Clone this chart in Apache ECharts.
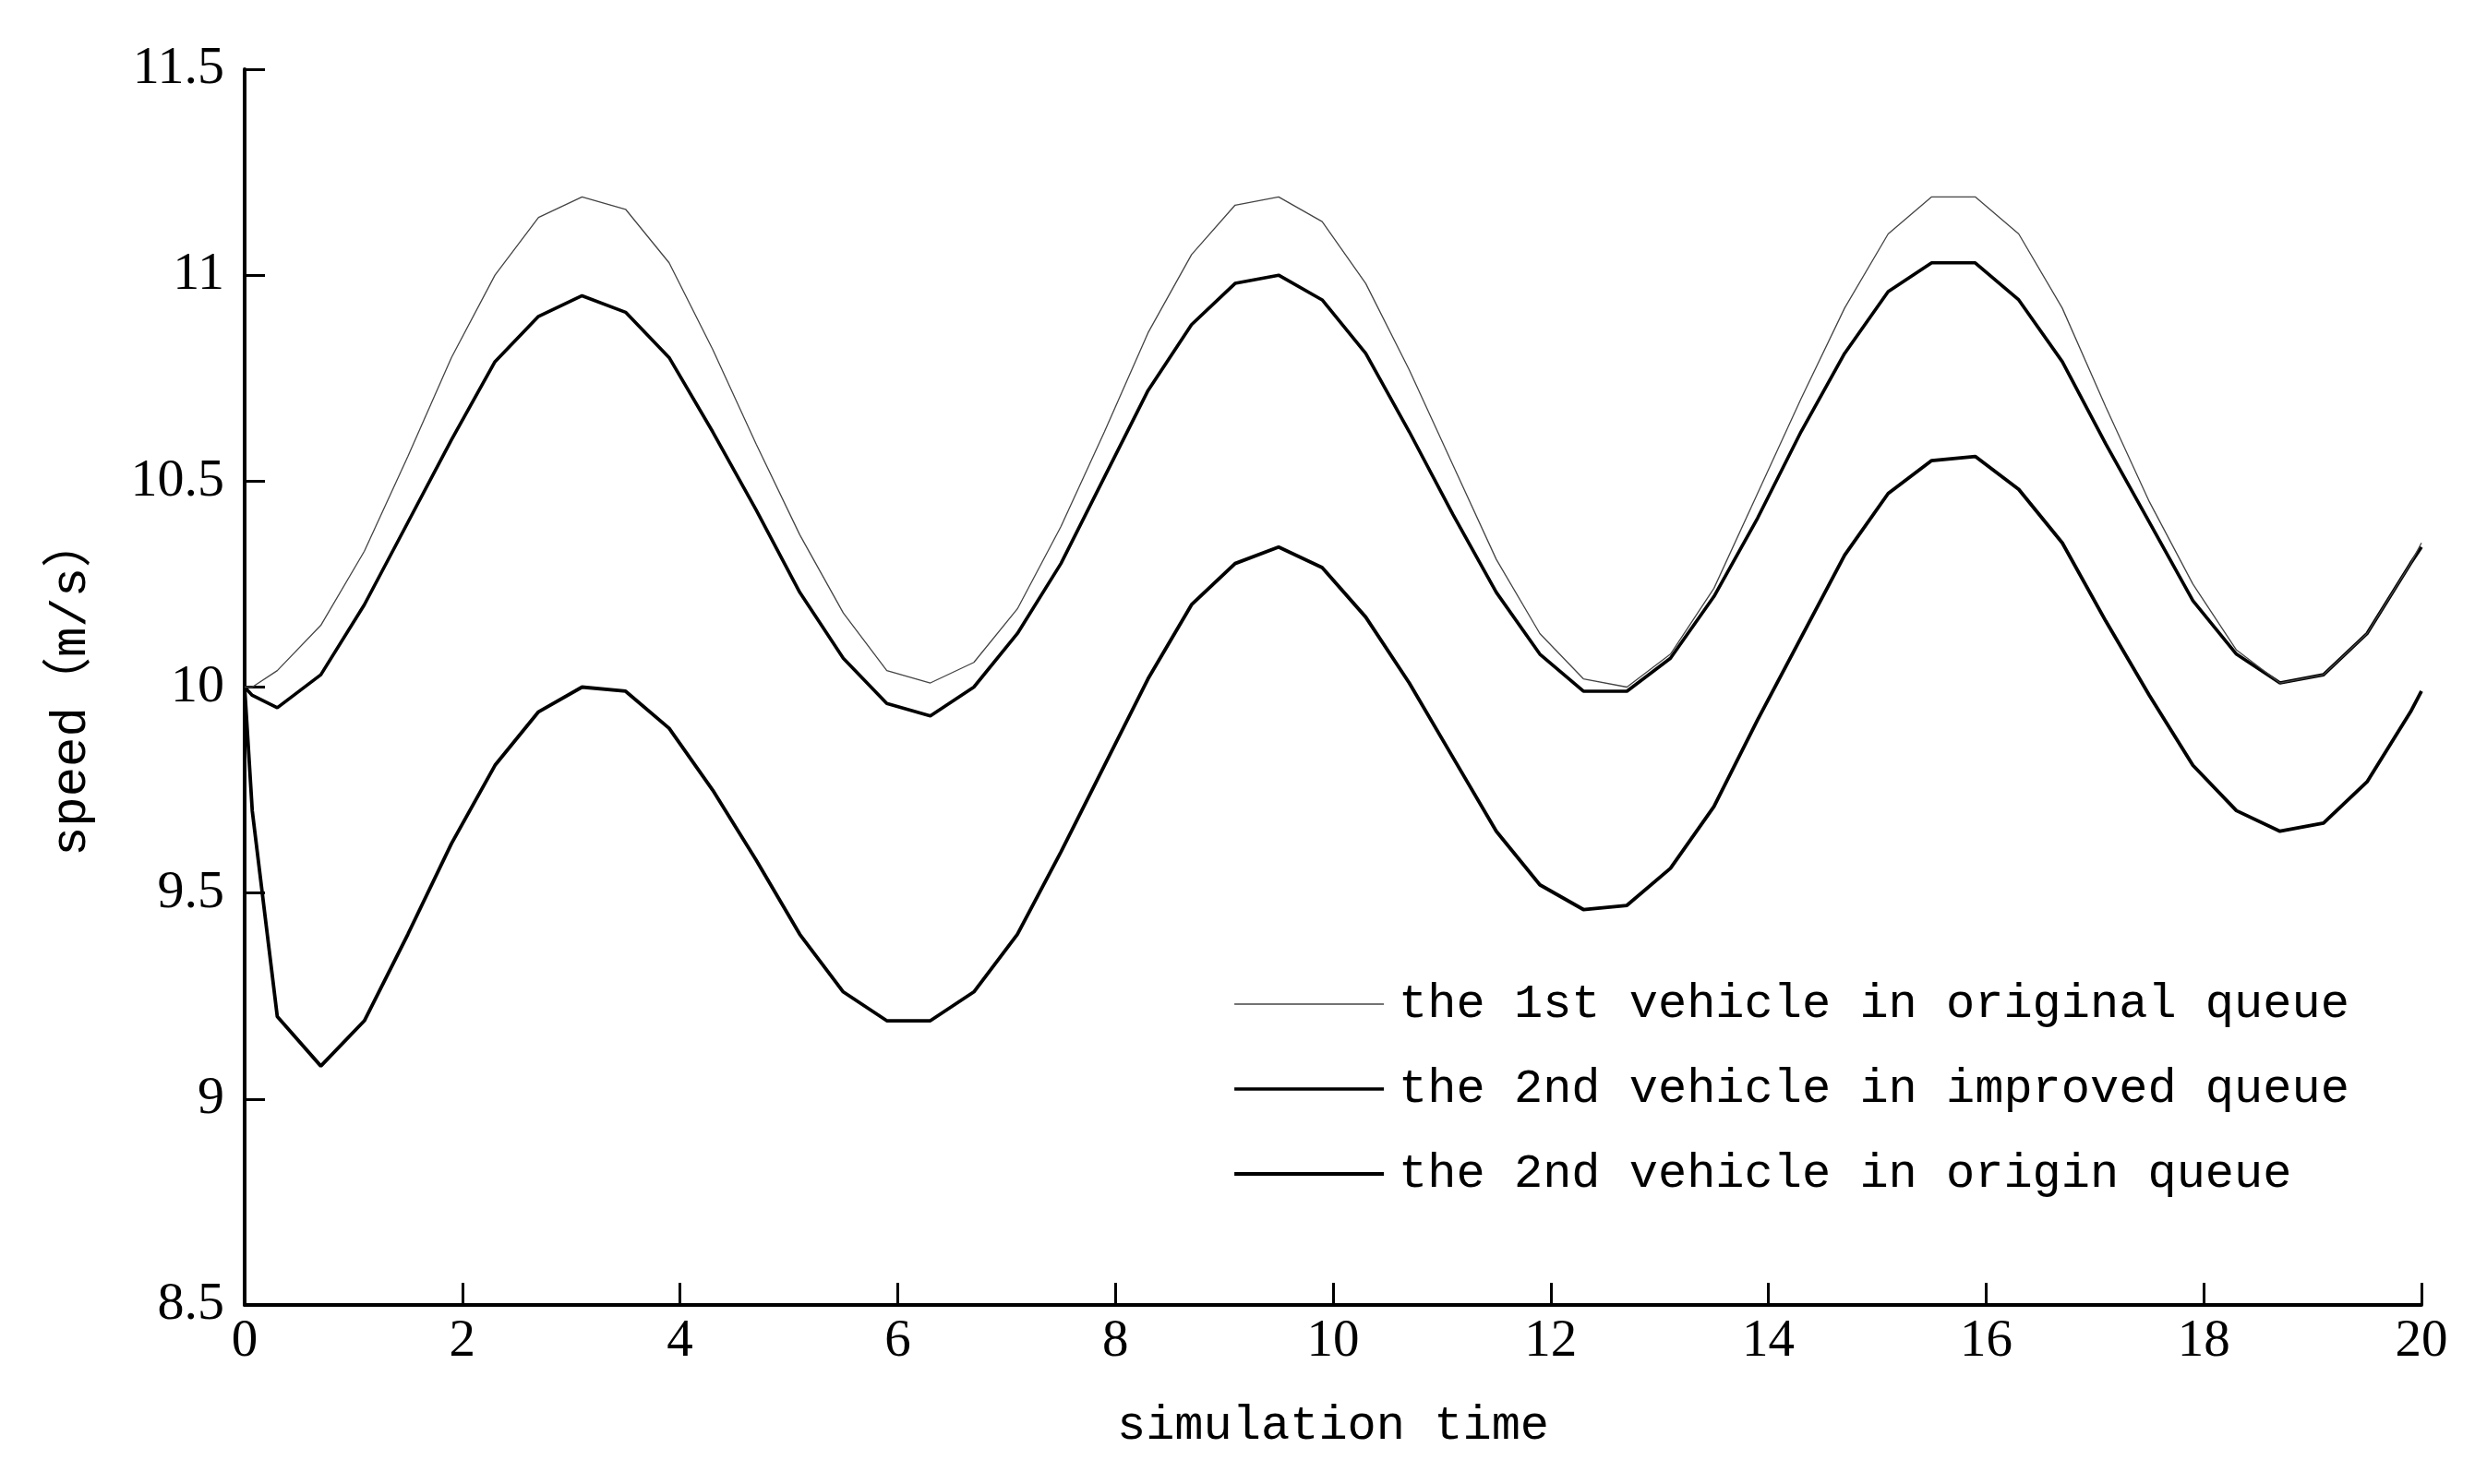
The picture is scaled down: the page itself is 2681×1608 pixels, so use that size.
<!DOCTYPE html>
<html>
<head>
<meta charset="utf-8">
<script src="https://cdn.jsdelivr.net/npm/echarts@6/dist/echarts.min.js"></script>
<style>
  html, body { margin: 0; padding: 0; background: #fff; }
  #chart { width: 2681px; height: 1608px; }
</style>
</head>
<body>
<div id="chart"></div>
<script>
// simulation time (x) of each sample
const time = [0, 0.07, 0.3, 0.7, 1.1, 1.5, 1.9, 2.3, 2.7, 3.1, 3.5, 3.9, 4.3, 4.7, 5.1, 5.5, 5.9,
  6.3, 6.7, 7.1, 7.5, 7.9, 8.3, 8.7, 9.1, 9.5, 9.9, 10.3, 10.7, 11.1, 11.5, 11.9,
  12.3, 12.7, 13.1, 13.5, 13.9, 14.3, 14.7, 15.1, 15.5, 15.9, 16.3, 16.7, 17.1, 17.5,
  17.9, 18.3, 18.7, 19.1, 19.5, 19.9, 20];

// the 1st vehicle in original queue
const firstOriginal = [10.00, 10.00, 10.04, 10.15, 10.33, 10.56, 10.80, 11.00, 11.14, 11.19, 11.16, 11.03, 10.82, 10.59, 10.37, 10.18, 10.04,
  10.01, 10.06, 10.19, 10.39, 10.62, 10.86, 11.05, 11.17, 11.19, 11.13, 10.98, 10.77, 10.54, 10.31, 10.13,
  10.02, 10.00, 10.08, 10.24, 10.47, 10.70, 10.92, 11.10, 11.19, 11.19, 11.10, 10.92, 10.68, 10.45,
  10.25, 10.09, 10.01, 10.03, 10.13, 10.30, 10.35];

// the 2nd vehicle in improved queue
const secondImproved = [10.00, 9.98, 9.95, 10.03, 10.20, 10.40, 10.60, 10.79, 10.90, 10.95, 10.91, 10.80, 10.62, 10.43, 10.23, 10.07, 9.96,
  9.93, 10.00, 10.13, 10.30, 10.51, 10.72, 10.88, 10.98, 11.00, 10.94, 10.81, 10.62, 10.42, 10.23, 10.08,
  9.99, 9.99, 10.07, 10.22, 10.41, 10.62, 10.81, 10.96, 11.03, 11.03, 10.94, 10.79, 10.59, 10.40,
  10.21, 10.08, 10.01, 10.03, 10.13, 10.30, 10.34];

// the 2nd vehicle in origin queue
const secondOrigin = [10.00, 9.70, 9.20, 9.08, 9.19, 9.40, 9.62, 9.81, 9.94, 10.00, 9.99, 9.90, 9.75, 9.58, 9.40, 9.26, 9.19,
  9.19, 9.26, 9.40, 9.60, 9.81, 10.02, 10.20, 10.30, 10.34, 10.29, 10.17, 10.01, 9.83, 9.65, 9.52,
  9.46, 9.47, 9.56, 9.71, 9.92, 10.12, 10.32, 10.47, 10.55, 10.56, 10.48, 10.35, 10.16, 9.98,
  9.81, 9.70, 9.65, 9.67, 9.77, 9.94, 9.99];

const seriesNames = ['the 1st vehicle in original queue', 'the 2nd vehicle in improved queue', 'the 2nd vehicle in origin queue'];

const zip = (vals) => time.map((t, i) => [t, vals[i]]);

const monoFont = "'Liberation Mono', 'Noto Sans CJK SC', monospace";
const serifFont = "'Liberation Serif', serif";

const thin = { color: '#444', width: 1.3 };
const thick = { color: '#000', width: 3.6 };

const chart = echarts.init(document.getElementById('chart'), null, { renderer: 'canvas' });
chart.setOption({
  animation: false,
  backgroundColor: '#ffffff',
  grid: { left: 265, right: 58, top: 75, bottom: 194, containLabel: false },
  legend: {
    orient: 'vertical',
    left: 1330,
    top: 1053,
    itemWidth: 162,
    itemHeight: 20,
    itemGap: 32,
    itemStyle: { opacity: 0 },
    data: [
      { name: seriesNames[0], lineStyle: { color: '#444', width: 1.3 }, itemStyle: { opacity: 0 } },
      { name: seriesNames[1], lineStyle: { color: '#000', width: 3.6 }, itemStyle: { opacity: 0 } },
      { name: seriesNames[2], lineStyle: { color: '#000', width: 4.2 }, itemStyle: { opacity: 0 } }
    ],
    textStyle: {
      fontFamily: monoFont, fontSize: 52, color: '#000', lineHeight: 60,
      padding: [0, 0, 0, 11]
    }
  },
  xAxis: {
    type: 'value',
    min: 0, max: 20, interval: 2,
    name: 'simulation time',
    nameLocation: 'middle',
    nameGap: 105,
    nameTextStyle: { fontFamily: monoFont, fontSize: 52, color: '#000' },
    axisLine: { show: true, onZero: false, lineStyle: { color: '#000', width: 4 } },
    axisTick: { show: true, inside: true, length: 24, lineStyle: { color: '#000', width: 3 } },
    axisLabel: { margin: 12, fontFamily: serifFont, fontSize: 57, color: '#000' },
    splitLine: { show: false }
  },
  yAxis: {
    type: 'value',
    min: 8.5, max: 11.5, interval: 0.5,
    name: 'speed（m/s）',
    nameLocation: 'middle',
    nameGap: 160,
    nameTextStyle: { fontFamily: monoFont, fontSize: 54, color: '#000' },
    axisLine: { show: true, onZero: false, lineStyle: { color: '#000', width: 4 } },
    axisTick: { show: true, inside: true, length: 22, lineStyle: { color: '#000', width: 3 } },
    axisLabel: { margin: 22, fontFamily: serifFont, fontSize: 58, color: '#000' },
    splitLine: { show: false }
  },
  series: [
    {
      name: seriesNames[0], type: 'line', data: zip(firstOriginal),
      symbol: 'none', lineStyle: thin, itemStyle: { color: '#444' }, z: 3
    },
    {
      name: seriesNames[1], type: 'line', data: zip(secondImproved),
      symbol: 'none', lineStyle: thick, itemStyle: { color: '#000' }, z: 2
    },
    {
      name: seriesNames[2], type: 'line', data: zip(secondOrigin),
      symbol: 'none', lineStyle: { color: '#000', width: 3.8 }, itemStyle: { color: '#000' }, z: 2
    }
  ]
});
</script>
</body>
</html>
